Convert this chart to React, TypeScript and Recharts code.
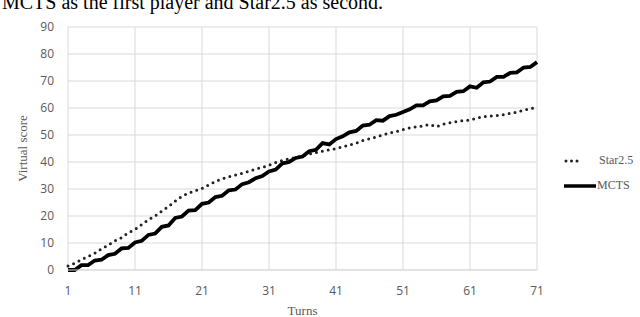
import { LineChart, Line, XAxis, YAxis, CartesianGrid, Legend } from 'recharts'

const turns = Array.from({ length: 71 }, (_, i) => i + 1)

const star25 = [
  1.5, 2.5, 3.8, 5, 6.2, 7.8, 9.2, 10.8, 12, 13.8,
  15, 16.8, 18.6, 20, 21.8, 23.5, 25.5, 27.3, 28.5, 29.3,
  30.2, 31.5, 32.8, 33.8, 34.5, 35.2, 35.8, 36.6, 37.4, 38,
  38.8, 39.8, 40.6, 41.2, 41.7, 42.3, 42.9, 43.5, 44, 44.5,
  45, 45.6, 46.3, 47, 48, 48.6, 49.3, 50, 50.8, 51.3,
  52, 52.6, 53, 53.4, 53.9, 53.1, 54, 54.5, 55, 55.3,
  55.6, 56.2, 56.8, 57, 57.2, 57.5, 58, 58.5, 59.2, 59.7,
  60.3,
]

const mcts = [
  0, 0, 1.8, 1.8, 3.5, 3.8, 5.5, 6, 8, 8.2,
  10.2, 10.8, 13, 13.5, 16, 16.5, 19.3, 19.8, 22, 22.2,
  24.5, 25, 27, 27.5, 29.5, 29.8, 31.8, 32.5, 34, 34.8,
  36.5, 37.2, 39.5, 40, 41.5, 42, 44, 44.5, 47, 46.5,
  48.5, 49.5, 51, 51.5, 53.5, 53.8, 55.5, 55.3, 57, 57.5,
  58.5, 59.5, 61, 61, 62.5, 62.8, 64.3, 64.5, 66, 66.2,
  68, 67.5, 69.5, 69.8, 71.5, 71.5, 73, 73.2, 75, 75.2,
  77,
]

const xTicks = [1, 11, 21, 31, 41, 51, 61, 71]
const yTicks = [0, 10, 20, 30, 40, 50, 60, 70, 80, 90]

const data = turns.map((t, i) => ({ turn: t, star: star25[i], mcts: mcts[i] }))

const tickStyle = { fill: '#595959', fontSize: 12, fontFamily: 'Open Sans, sans-serif' }
const serif = 'Liberation Serif, Times New Roman, serif'

function LegendBox() {
  return (
    <div style={{ fontFamily: serif, fontSize: 12, color: '#595959', lineHeight: '25px' }}>
      <div style={{ display: 'flex', alignItems: 'center' }}>
        <svg width={32} height={10}>
          <line x1={2} y1={5} x2={16} y2={5} stroke="#222" strokeWidth={3}
            strokeDasharray="0 5.5" strokeLinecap="round" />
        </svg>
        <span style={{ marginLeft: 3 }}>Star2.5</span>
      </div>
      <div style={{ display: 'flex', alignItems: 'center' }}>
        <svg width={32} height={10}>
          <line x1={0} y1={5} x2={32} y2={5} stroke="#000" strokeWidth={3.5} />
        </svg>
        <span style={{ marginLeft: 1 }}>MCTS</span>
      </div>
    </div>
  )
}

export default function App() {
  return (
    <div style={{ position: 'absolute', left: 0, top: 0, width: 640, height: 317, overflow: 'hidden', background: '#fff' }}>
      <div style={{ position: 'absolute', left: 2, top: -8, fontFamily: serif, fontSize: 20, lineHeight: '20px', whiteSpace: 'nowrap', color: '#000' }}>
        MCTS as the first player and Star2.5 as second.
      </div>
      <LineChart width={640} height={317} data={data}
        margin={{ top: 27, right: 103, bottom: 0, left: 0 }}>
        <CartesianGrid stroke="#d9d9d9" strokeWidth={1} />
        <XAxis dataKey="turn" type="number" domain={[1, 71]} ticks={xTicks}
          height={47} tick={tickStyle} tickLine={false} axisLine={{ stroke: '#d9d9d9' }}
          tickMargin={10}
          label={{ value: 'Turns', position: 'insideBottom', offset: 2, fill: '#595959', fontSize: 13, fontFamily: serif }} />
        <YAxis type="number" domain={[0, 90]} ticks={yTicks} width={68}
          tick={tickStyle} tickLine={false} axisLine={false} tickMargin={8}
          label={{ value: 'Virtual score', angle: -90, position: 'insideLeft', offset: 22, fill: '#595959', fontSize: 13, fontFamily: serif, style: { textAnchor: 'middle' } }} />
        <Legend content={<LegendBox />} layout="vertical" align="center" verticalAlign="middle"
          wrapperStyle={{ left: 564, top: 148, width: 76 }} />
        <Line dataKey="star" name="Star2.5" stroke="#222" strokeWidth={3}
          strokeDasharray="0 6" strokeLinecap="round" dot={false} isAnimationActive={false} />
        <Line dataKey="mcts" name="MCTS" stroke="#000" strokeWidth={3.8}
          dot={false} isAnimationActive={false} />
      </LineChart>
    </div>
  )
}
